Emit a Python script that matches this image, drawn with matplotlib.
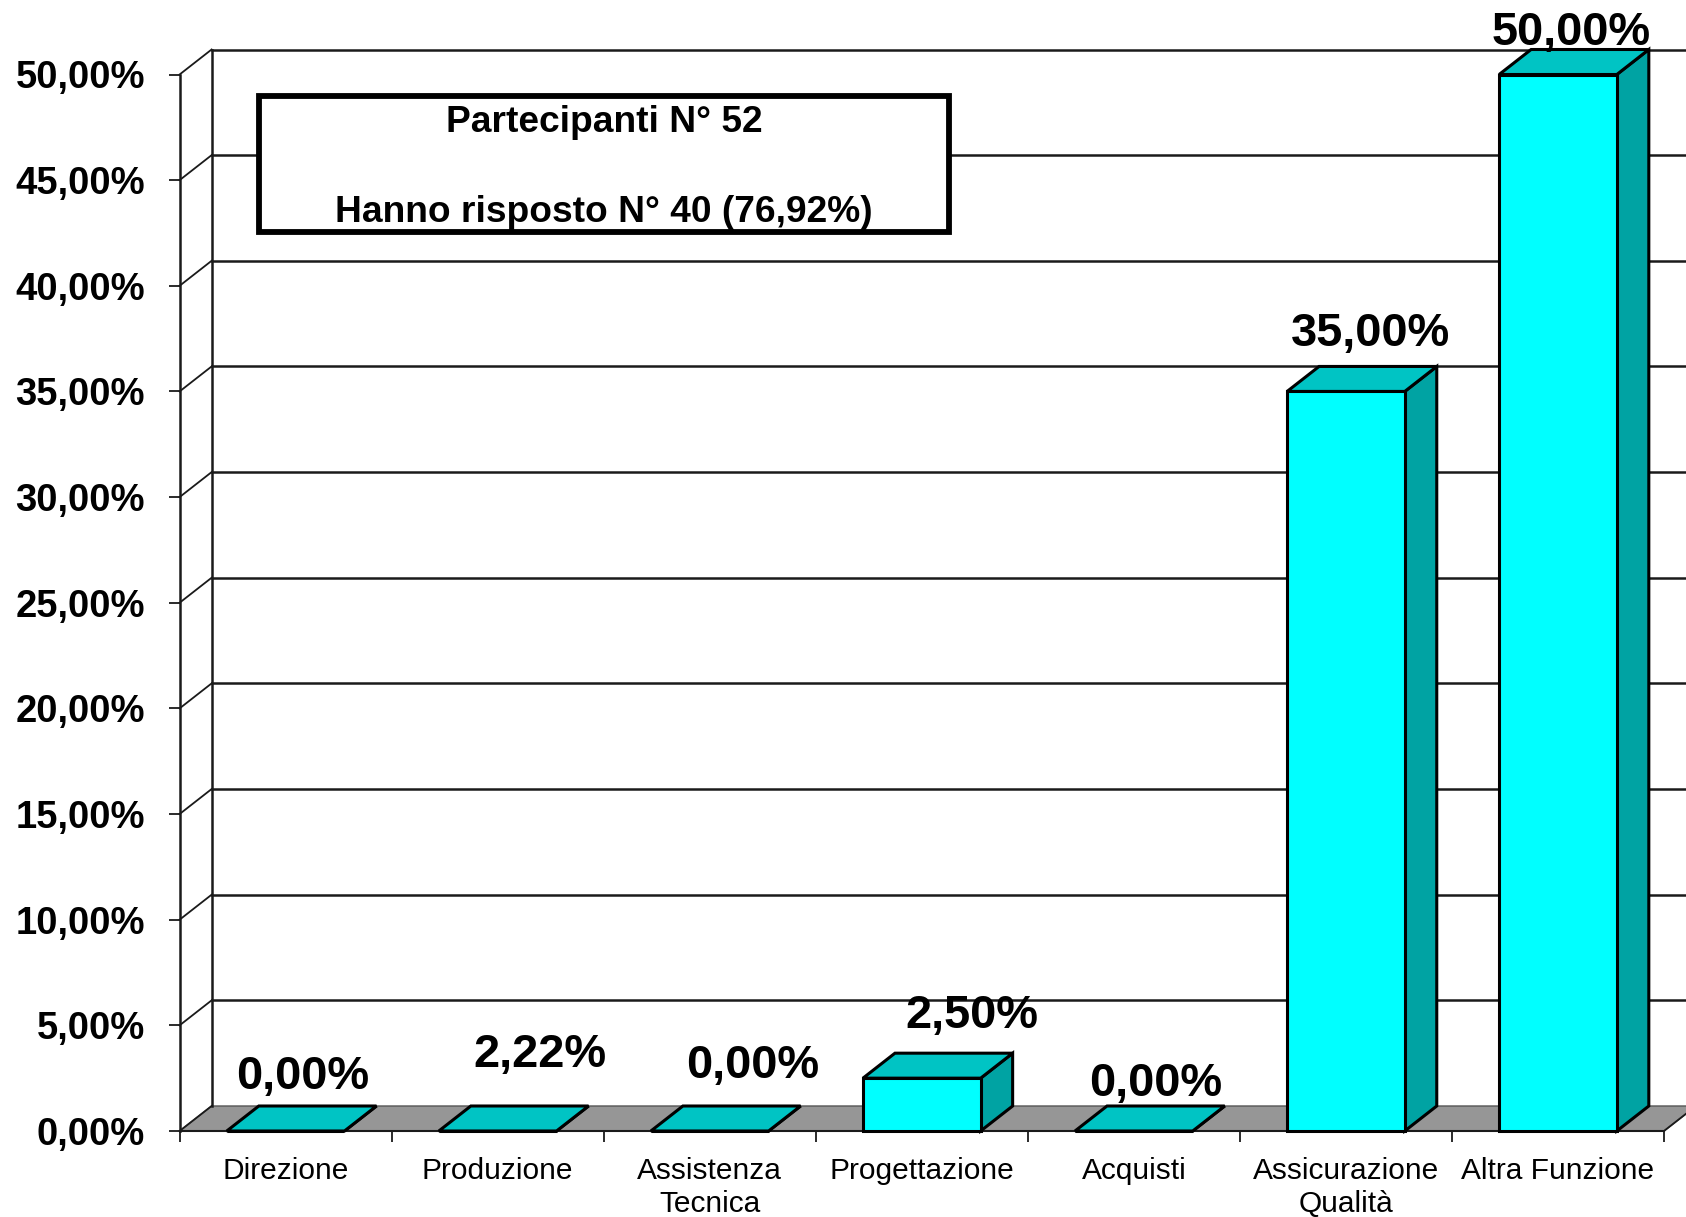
import numpy as np
import matplotlib
matplotlib.use('Agg')
import matplotlib.pyplot as plt
from matplotlib.patches import Polygon, Rectangle

plt.rcParams['font.family'] = ['Liberation Sans', 'DejaVu Sans']

# data
categories = ['Direzione', 'Produzione', 'Assistenza\nTecnica', 'Progettazione',
              'Acquisti', 'Assicurazione\nQualità', 'Altra Funzione']
values = [0, 0, 0, 2.5, 0, 35, 50]
value_labels = ['0,00%', '2,22%', '0,00%', '2,50%', '0,00%', '35,00%', '50,00%']
y_ticks = [0, 5, 10, 15, 20, 25, 30, 35, 40, 45, 50]
y_tick_labels = ['0,00%', '5,00%', '10,00%', '15,00%', '20,00%', '25,00%',
                 '30,00%', '35,00%', '40,00%', '45,00%', '50,00%']
box_lines = ['Partecipanti N° 52', 'Hanno risposto N° 40 (76,92%)']

# layout, in pixels of the 1686x1217 picture
W, H = 1686, 1217
left, right, bottom, top = 179.6, 1664, 1131, 74.5
label_nudge = [(17, 54), (42, 76), (43, 65), (50, 62), (22, 47), (25, 57), (13, 41)]

fig = plt.figure(figsize=(W / 100, H / 100), dpi=100)
ax = fig.add_axes([left / W, 1 - bottom / H, (right - left) / W, (bottom - top) / H])
ax.set_xlim(0, 7)
ax.set_ylim(0, 50)
for s in ax.spines.values():
    s.set_visible(False)
ax.patch.set_visible(False)

# depth of the 3d look, in data units
dx = 32 / ((right - left) / 7)
dy = 25 / ((bottom - top) / 50)
bar_w = 0.555
n = len(categories)

# floor
ax.add_patch(Polygon([(0, 0), (n, 0), (n + dx, dy), (dx, dy)], closed=True, fc='#969696',
                     ec='#555555', lw=1, clip_on=False, zorder=1))

# walls and grid
for t in y_ticks:
    if t > 0:
        ax.plot([dx, n + dx], [t + dy, t + dy], color='#1a1a1a', lw=1.8, clip_on=False, zorder=1.5)
    ax.plot([0, dx], [t, t + dy], color='#1a1a1a', lw=1.3, clip_on=False, zorder=1.5)
ax.plot([0, 0], [0, 50], color='#1a1a1a', lw=1.8, clip_on=False, zorder=1.6)
ax.plot([dx, dx], [dy, 50 + dy], color='#1a1a1a', lw=1.8, clip_on=False, zorder=1.6)
ax.plot([0, n], [0, 0], color='#1a1a1a', lw=1.5, clip_on=False, zorder=1.6)
ax.plot([n, n + dx], [0, dy], color='#1a1a1a', lw=1.3, clip_on=False, zorder=1.6)

# bars
for i, v in enumerate(values):
    x0 = i + 0.5 - bar_w / 2
    x1 = i + 0.5 + bar_w / 2
    ax.add_patch(Polygon([(x1, 0), (x1 + dx, dy), (x1 + dx, v + dy), (x1, v)], closed=True,
                         fc='#00A3A3', ec='black', lw=2.2, clip_on=False, zorder=2))
    ax.add_patch(Polygon([(x0, v), (x1, v), (x1 + dx, v + dy), (x0 + dx, v + dy)], closed=True,
                         fc='#00C4C4', ec='black', lw=2.2, clip_on=False, zorder=2))
    ax.bar(i + 0.5, v, width=bar_w, color='#00FFFF', edgecolor='black', linewidth=2.2,
           clip_on=False, zorder=3)
    ax.annotate(value_labels[i], xy=(i + 0.5, v),
                xytext=(label_nudge[i][0] * 0.72, label_nudge[i][1] * 0.72),
                textcoords='offset points', ha='center', va='center',
                fontsize=33.8, fontweight='bold', color='black', annotation_clip=False, zorder=5)

# ticks
ax.set_yticks(y_ticks)
ax.set_yticklabels(y_tick_labels, fontsize=27.5, fontweight='bold')
ax.tick_params(axis='y', length=8, width=1.3, color='#1a1a1a', pad=17)
ax.set_xticks(np.arange(n + 1))
ax.set_xticklabels([])
ax.tick_params(axis='x', which='major', length=8, width=1.3, color='#1a1a1a')
ax.set_xticks(np.arange(n) + 0.5, minor=True)
ax.set_xticklabels(categories, minor=True, fontsize=21.5, linespacing=1.2)
ax.tick_params(axis='x', which='minor', length=0, pad=19)

# note box
fig.add_artist(Rectangle((259 / W, 1 - 232 / H), (949 - 259) / W, (232 - 96) / H,
                         transform=fig.transFigure, fc='white', ec='black', lw=4.2, zorder=6))
fig.text(604 / W, 1 - 123 / H, box_lines[0], ha='center', va='center', fontsize=26.7,
         fontweight='bold', zorder=7)
fig.text(604 / W, 1 - 213 / H, box_lines[1], ha='center', va='center', fontsize=26.7,
         fontweight='bold', zorder=7)

fig.savefig('out.png', dpi=100, facecolor='white')
